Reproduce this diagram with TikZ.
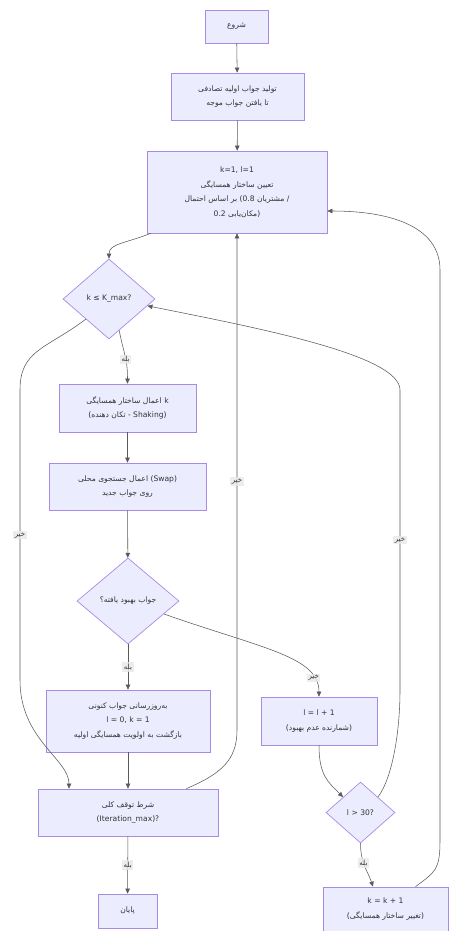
\documentclass[tikz,border=0pt]{standalone}
\usepackage{fontspec}
\setmainfont{DejaVu Sans}
\newfontfamily\fa[Script=Arabic]{DejaVu Sans}
\TeXXeTstate=1
\newcommand\fat[1]{\hbox{\fa\beginR #1\endR}}
\usetikzlibrary{shapes.geometric,arrows.meta,calc}
\definecolor{nodefill}{HTML}{ECECFF}
\definecolor{nodeline}{HTML}{A88BE6}
\definecolor{edgeline}{HTML}{5A5A5A}
\definecolor{labelbg}{HTML}{E8E8E8}
\definecolor{txt}{HTML}{333333}
\tikzset{
  box/.style={draw=nodeline,fill=nodefill,line width=0.7pt,align=center,text=txt,
    font=\fontsize{7.6}{14.5}\selectfont,inner sep=0pt},
  decision/.style={diamond,draw=nodeline,fill=nodefill,line width=0.7pt,align=center,text=txt,
    font=\fontsize{7.6}{14.5}\selectfont,inner sep=0pt},
  flow/.style={draw=edgeline,line width=0.55pt,-{Triangle[length=5pt,width=4.5pt]}},
  lbl/.style={fill=labelbg,fill opacity=0.8,text opacity=1,text=txt,inner sep=1.5pt,
    font=\fontsize{7}{8}\selectfont},
}
\begin{document}
\begin{tikzpicture}[x=1pt,y=-1pt]
  \useasboundingbox (0,0) rectangle (450,931);
  % main column
  \node[box,minimum width=63pt,minimum height=33pt] (start) at (236.5,26.5) {\fat{شروع}};
  \node[box,minimum width=133pt,minimum height=47pt] (init) at (237.5,96.5)
    {\fat{تولید جواب اولیه تصادفی}\\\fat{تا یافتن جواب موجه}};
  \node[box,minimum width=180pt,minimum height=82pt] (setk) at (237,192)
    {k=1, l=1\\\fat{تعیین ساختار همسایگی}\\\fat{بر اساس احتمال} (0.8 \fat{مشتریان} /\\0.2 \fat{مکان‌یابی})};
  \node[decision,minimum width=92pt,minimum height=80pt] (kcheck) at (109,299) {k ≤ K\_max?};
  \node[box,minimum width=137pt,minimum height=48pt] (shake) at (127.5,408)
    {\fat{اعمال ساختار همسایگی} k\\(\fat{تکان دهنده} - Shaking)};
  \node[box,minimum width=157pt,minimum height=47pt] (swap) at (127.5,486.5)
    {\fat{اعمال جستجوی محلی} (Swap)\\\fat{روی جواب جدید}};
  \node[decision,minimum width=102pt,minimum height=86pt] (improved) at (128,601)
    {\fat{جواب بهبود یافته؟}};
  \node[box,minimum width=164pt,minimum height=62pt] (update) at (128,721)
    {\fat{به‌روزرسانی جواب کنونی}\\l = 0, k = 1\\\fat{بازگشت به اولویت همسایگی اولیه}};
  \node[box,minimum width=180pt,minimum height=47pt] (stop) at (128,812.5)
    {\fat{شرط توقف کلی}\\(Iteration\_max)?};
  \node[box,minimum width=59pt,minimum height=34pt] (finish) at (127.5,911) {\fat{پایان}};
  % right branch
  \node[box,minimum width=116pt,minimum height=48pt] (inc) at (319,721)
    {l = l + 1\\(\fat{شمارنده عدم بهبود})};
  \node[decision,minimum width=69pt,minimum height=61pt] (lcheck) at (360.5,812.5) {l > 30?};
  \node[box,minimum width=125pt,minimum height=44pt] (kinc) at (385.5,909)
    {k = k + 1\\(\fat{تغییر ساختار همسایگی})};

  \draw[flow] (start) -- (init);
  \draw[flow] (init) -- (setk);
  \draw[flow] ([xshift=4pt]setk.south west) .. controls +(-25,10) and +(0,-15) .. (kcheck.north);
  \draw[flow] ($(kcheck.south)!0.22!(kcheck.east)$) .. controls +(5,25) and +(0,-25)
    .. node[lbl,pos=0.55]{\fat{بله}} (shake.north);
  \draw[flow] (kcheck.south west) .. controls +(-40,30) and +(0,-40) .. (20,390)
    -- node[lbl]{\fat{خیر}} (20,680) .. controls +(0,60) and +(0,-30) .. ([xshift=-59pt]stop.north);
  \draw[flow] (shake) -- (swap);
  \draw[flow] (swap) -- (improved);
  \draw[flow] (improved) -- node[lbl,pos=0.5]{\fat{بله}} (update);
  \draw[flow] ($(improved.east)!0.3!(improved.south)$) .. controls +(100,35) and +(0,-40)
    .. node[lbl,pos=0.82]{\fat{خیر}} (inc.north);
  \draw[flow] (update) -- (stop);
  \draw[flow] ([xshift=-32pt]stop.north east) .. controls +(35,-15) and +(0,30) .. (237,730)
    -- node[lbl]{\fat{خیر}} (setk.south);
  \draw[flow] (stop) -- node[lbl]{\fat{بله}} (finish);
  \draw[flow] (inc.south) .. controls +(0,30) and +(-15,-15) .. (lcheck.north west);
  \draw[flow] (lcheck.north east) .. controls +(15,-20) and +(0,40) .. (400,690)
    -- node[lbl]{\fat{خیر}} (400,390) .. controls +(0,-35) and +(110,22)
    .. ($(kcheck.east)!0.17!(kcheck.south)$);
  \draw[flow] (lcheck.south) .. controls +(0,20) and +(-5,-15)
    .. node[lbl,pos=0.4]{\fat{بله}} ([xshift=-12.5pt]kinc.north);
  \draw[flow] ([xshift=30pt]kinc.north) .. controls +(20,-15) and +(0,30) .. (440,840)
    -- (440,270) .. controls +(0,-45) and +(60,0) .. ([yshift=-19pt]setk.east);
\end{tikzpicture}
\end{document}
